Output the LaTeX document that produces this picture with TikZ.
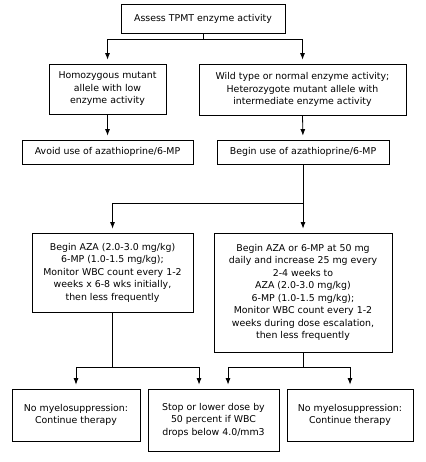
\documentclass[tikz,border=0pt]{standalone}
\usepackage{fontspec}
\setmainfont{DejaVu Sans}
\usetikzlibrary{arrows.meta,positioning,calc}

\begin{document}
\begin{tikzpicture}[x=1pt,y=-1pt,
	box/.style={draw, line width=0.8pt, align=center, inner sep=0pt, font=\fontsize{9.4}{12.5}\selectfont},
	arr/.style={-{Latex[length=6.5pt,width=5pt]}, line width=0.8pt, shorten >=4pt},
	ln/.style={line width=0.8pt}]
	\useasboundingbox (0,0) rectangle (425,462);
	\node[box, minimum width=164, minimum height=29] (assess) at (203,18.5) {Assess TPMT enzyme activity};
	\node[box, minimum width=117, minimum height=50] (homo) at (107.5,89) {Homozygous mutant\\allele with low\\enzyme activity};
	\node[box, minimum width=207, minimum height=51] (wild) at (302.5,89.5) {Wild type or normal enzyme activity;\\Heterozygote mutant allele with\\intermediate enzyme activity};
	\node[box, minimum width=171, minimum height=24] (avoid) at (107.5,152) {Avoid use of azathioprine/6-MP};
	\node[box, minimum width=172, minimum height=24] (begin) at (303,152) {Begin use of azathioprine/6-MP};
	\node[box, minimum width=161, minimum height=79] (azaL) at (112.5,272.5) {Begin AZA (2.0-3.0 mg/kg)\\6-MP (1.0-1.5 mg/kg);\\Monitor WBC count every 1-2\\weeks x 6-8 wks initially,\\then less frequently};
	\node[box, minimum width=178, minimum height=119] (azaR) at (303,292.5) {Begin AZA or 6-MP at 50 mg\\daily and increase 25 mg every\\2-4 weeks to\\AZA (2.0-3.0 mg/kg)\\6-MP (1.0-1.5 mg/kg);\\Monitor WBC count every 1-2\\weeks during dose escalation,\\then less frequently};
	\node[box, minimum width=128, minimum height=52] (noL) at (76,415) {No myelosuppression:\\Continue therapy};
	\node[box, minimum width=131, minimum height=62] (stop) at (213.5,420) {Stop or lower dose by\\50 percent if WBC\\drops below 4.0/mm3};
	\node[box, minimum width=126, minimum height=52] (noR) at (350,415) {No myelosuppression:\\Continue therapy};
	% first fork
	\draw[arr] (assess.south) -- ++(0,6) -| (homo.north);
	\draw[arr] (assess.south) -- ++(0,6) -| (wild.north);
	\draw[arr] (homo) -- (avoid);
	\draw[arr] (wild.south) -- (begin.north);
	% dosing fork
	\draw[arr] (begin.south) -- ++(0,39) -| (azaL.north);
	\draw[arr] (begin) -- (azaR);
	% outcomes
	\coordinate (stopA) at ($(stop.north)+(-14.5,0)$);
	\coordinate (stopB) at ($(stop.north)+(14.5,0)$);
	\draw[arr] (azaL.south) -- ++(0,55) -| (noL.north);
	\draw[arr] (azaL.south) -- ++(0,55) -| (stopA);
	\draw[arr] (azaR.south) -- ++(0,15) -| (stopB);
	\draw[arr] (azaR.south) -- ++(0,15) -| (noR.north);
\end{tikzpicture}
\end{document}
